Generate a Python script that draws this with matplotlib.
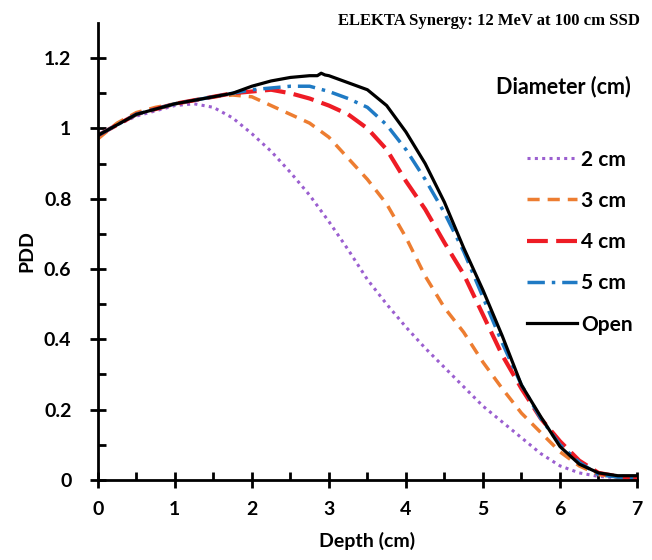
import matplotlib.pyplot as plt
from matplotlib.ticker import MultipleLocator, FixedLocator

# depth grid (cm)
depth = [0, 0.25, 0.5, 0.75, 1.0, 1.25, 1.5, 1.75, 2.0, 2.25, 2.5, 2.75, 3.0,
         3.25, 3.5, 3.75, 4.0, 4.25, 4.5, 4.75, 5.0, 5.25, 5.5, 5.75, 6.0,
         6.25, 6.5, 6.75, 7.0]

pdd_2cm = [0.98, 1.01, 1.035, 1.05, 1.065, 1.07, 1.06, 1.03, 0.985, 0.935,
           0.875, 0.81, 0.735, 0.655, 0.57, 0.50, 0.435, 0.375, 0.32, 0.265,
           0.21, 0.165, 0.12, 0.075, 0.04, 0.02, 0.01, 0.006, 0.005]
pdd_3cm = [0.97, 1.015, 1.045, 1.06, 1.07, 1.08, 1.09, 1.095, 1.09, 1.065,
           1.04, 1.015, 0.975, 0.915, 0.855, 0.785, 0.69, 0.58, 0.49, 0.42,
           0.335, 0.26, 0.19, 0.135, 0.08, 0.04, 0.015, 0.008, 0.005]
pdd_4cm = [0.98, 1.01, 1.04, 1.055, 1.07, 1.08, 1.09, 1.10, 1.105, 1.11,
           1.10, 1.085, 1.065, 1.04, 1.0, 0.94, 0.85, 0.77, 0.675, 0.585,
           0.47, 0.355, 0.26, 0.175, 0.11, 0.055, 0.02, 0.01, 0.005]
pdd_5cm = [0.98, 1.01, 1.04, 1.055, 1.07, 1.08, 1.09, 1.10, 1.11, 1.115,
           1.12, 1.12, 1.105, 1.085, 1.06, 1.01, 0.94, 0.855, 0.76, 0.65,
           0.52, 0.39, 0.27, 0.175, 0.10, 0.05, 0.015, 0.008, 0.005]

depth_open = [0, 0.25, 0.5, 0.75, 1.0, 1.25, 1.5, 1.75, 2.0, 2.25, 2.5, 2.75,
              2.85, 2.9, 2.95, 3.0, 3.25, 3.5, 3.75, 4.0, 4.25, 4.5, 4.75,
              5.0, 5.25, 5.5, 5.75, 6.0, 6.25, 6.5, 6.75, 7.0]
pdd_open = [0.98, 1.01, 1.04, 1.055, 1.07, 1.08, 1.09, 1.10, 1.12, 1.135,
            1.145, 1.15, 1.15, 1.157, 1.152, 1.15, 1.13, 1.11, 1.065, 0.99,
            0.90, 0.79, 0.66, 0.54, 0.41, 0.27, 0.18, 0.095, 0.045, 0.02,
            0.012, 0.012]

fnt = "Lato"

fig = plt.figure(figsize=(6.52, 5.6), dpi=100)
ax = fig.add_axes([0.150, 0.143, 0.827, 0.816])

ax.plot(depth, pdd_2cm, color="#9B5FD0", lw=2.2, ls=(0, (1, 1.4)), label="2 cm")
ax.plot(depth, pdd_3cm, color="#ED7D31", lw=2.5, ls=(0, (3.5, 2.3)), label="3 cm")
ax.plot(depth, pdd_4cm, color="#EE1C25", lw=3, ls=(0, (5, 2)), label="4 cm")
ax.plot(depth, pdd_5cm, color="#1F7AC4", lw=2.5, ls=(0, (5, 2, 1, 2)), label="5 cm")
ax.plot(depth_open, pdd_open, color="black", lw=2.3, label="Open")

ax.set_xlim(0, 7)
ax.set_ylim(0, 1.3)
for s in ["top", "right"]:
    ax.spines[s].set_visible(False)
for s in ["left", "bottom"]:
    ax.spines[s].set_linewidth(2)

ax.xaxis.set_major_locator(MultipleLocator(1))
ax.xaxis.set_minor_locator(MultipleLocator(0.5))
ax.yaxis.set_major_locator(FixedLocator([0, 0.2, 0.4, 0.6, 0.8, 1.0, 1.2]))
ax.yaxis.set_minor_locator(FixedLocator([0.1, 0.3, 0.5, 0.7, 0.9, 1.1]))
ax.set_yticklabels(["0", "0.2", "0.4", "0.6", "0.8", "1", "1.2"])
ax.tick_params(which="major", direction="inout", length=12, width=2)
ax.tick_params(which="minor", direction="in", length=6, width=2)
ax.tick_params(axis="x", which="major", pad=9)
ax.tick_params(axis="y", which="major", pad=13)
for lab in ax.get_xticklabels() + ax.get_yticklabels():
    lab.set_fontfamily(fnt)
    lab.set_fontweight("bold")
    lab.set_fontsize(14)

ax.set_xlabel("Depth (cm)", fontfamily=fnt, fontweight="bold", fontsize=14, labelpad=10)
ax.set_ylabel("PDD", fontfamily=fnt, fontweight="bold", fontsize=14, labelpad=6)

fig.text(0.982, 0.962, "ELEKTA Synergy: 12 MeV at 100 cm SSD", ha="right", va="center",
         fontfamily="Liberation Serif", fontweight="bold", fontsize=12)

ax.text(0.968, 0.845, "Diameter (cm)", transform=fig.transFigure, ha="right", va="center",
        fontfamily=fnt, fontweight="bold", fontsize=15.5)
leg = ax.legend(loc="upper right", bbox_to_anchor=(0.970, 0.733), bbox_transform=fig.transFigure,
                frameon=False, handlelength=2.4, handletextpad=0.2, labelspacing=1.02,
                borderpad=0, borderaxespad=0,
                prop={"family": fnt, "weight": "bold", "size": 15})

fig.savefig("out.png", dpi=100)
